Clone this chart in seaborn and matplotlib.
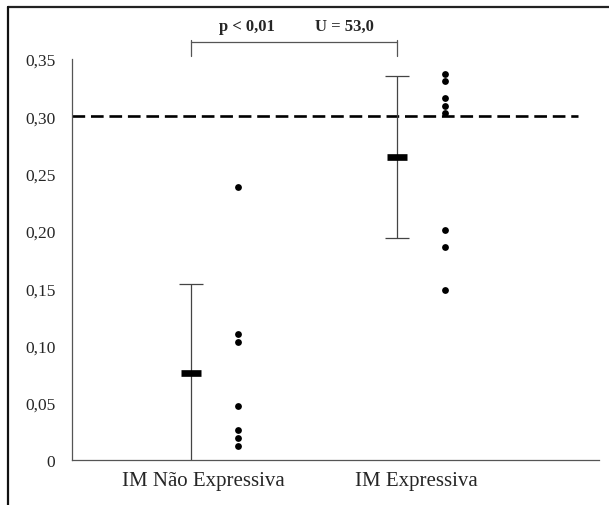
import numpy as np
import pandas as pd
import matplotlib
matplotlib.use("Agg")
import matplotlib.pyplot as plt
import seaborn as sns
from matplotlib.lines import Line2D

# dados
grupos = ["IM Não Expressiva", "IM Expressiva"]
valores_nao_expressiva = [0.238, 0.110, 0.103, 0.047, 0.026, 0.019, 0.012]
valores_expressiva = [0.337, 0.331, 0.316, 0.309, 0.303, 0.201, 0.186, 0.148]
medias = [0.0759, 0.2645]
desvios = [0.0777, 0.0705]
limiar = 0.30
yticks = [0, 0.05, 0.10, 0.15, 0.20, 0.25, 0.30, 0.35]
ytick_labels = ["0", "0,05", "0,10", "0,15", "0,20", "0,25", "0,30", "0,35"]
texto_p = "p < 0,01"
texto_u = "U = 53,0"

sns.set_style("white")
plt.rcParams["font.family"] = ["Liberation Serif", "DejaVu Serif"]

df = pd.DataFrame({
    "grupo": [grupos[0]] * len(valores_nao_expressiva) + [grupos[1]] * len(valores_expressiva),
    "valor": valores_nao_expressiva + valores_expressiva,
})
df["pos"] = df["grupo"].map({g: i for i, g in enumerate(grupos)}) + 0.114

fig = plt.figure(figsize=(6.09, 5.06), dpi=100)
ax = fig.add_axes([72 / 609, 1 - 461 / 506, (599 - 72) / 609, (461 - 60) / 506])

# pontos individuais
sns.scatterplot(data=df, x="pos", y="valor", color="black", s=24,
                edgecolor="black", linewidth=0, ax=ax, zorder=4, legend=False)

# media +- desvio
xs = np.arange(len(grupos)) - 0.114
ax.errorbar(xs, medias, yerr=desvios, fmt="none", ecolor="#444444",
            elinewidth=0.9, capsize=8.5, capthick=0.9, zorder=2)
ax.scatter(xs, medias, marker="_", s=15 ** 2, linewidths=4.8, color="black", zorder=3)

# linha de corte
ax.plot([-0.69, 1.76], [limiar, limiar], color="black", lw=1.9,
        dashes=(4.8, 2.2), zorder=1)

ax.set_xlim(-0.69, 1.862)
ax.set_ylim(0, 0.35)
ax.set_yticks(yticks)
ax.set_yticklabels(ytick_labels, fontsize=12.5)
ax.set_xticks([-0.053, 0.978])
ax.set_xticklabels(grupos, fontsize=15)
ax.tick_params(axis="y", direction="out", length=4, width=0.8, color="#555555", pad=8)
ax.tick_params(axis="x", length=0, pad=8)
ax.set_xlabel("")
ax.set_ylabel("")
for lado in ["top", "right"]:
    ax.spines[lado].set_visible(False)
for lado in ["left", "bottom"]:
    ax.spines[lado].set_color("#555555")
    ax.spines[lado].set_linewidth(0.9)

# colchete de significancia
yb, yt0, yt1 = 0.3647, 0.3525, 0.3670
ax.plot([xs[0], xs[1]], [yb, yb], color="#555555", lw=0.9, clip_on=False)
for x in xs:
    ax.plot([x, x], [yt0, yt1], color="#555555", lw=0.9, clip_on=False)
ax.text((247 - 214.5) / 206.5, 0.379, texto_p, ha="center", va="center",
        fontsize=12, fontweight="bold")
ax.text((344 - 214.5) / 206.5, 0.379, texto_u, ha="center", va="center",
        fontsize=12, fontweight="bold")

# moldura externa
fig.add_artist(Line2D([8 / 609, 1], [1 - 7.5 / 506, 1 - 7.5 / 506],
                      transform=fig.transFigure, color="#222222", lw=1.6))
fig.add_artist(Line2D([8 / 609, 8 / 609], [0, 1 - 7.5 / 506],
                      transform=fig.transFigure, color="#111111", lw=1.6))

fig.savefig("out.png", dpi=100)
